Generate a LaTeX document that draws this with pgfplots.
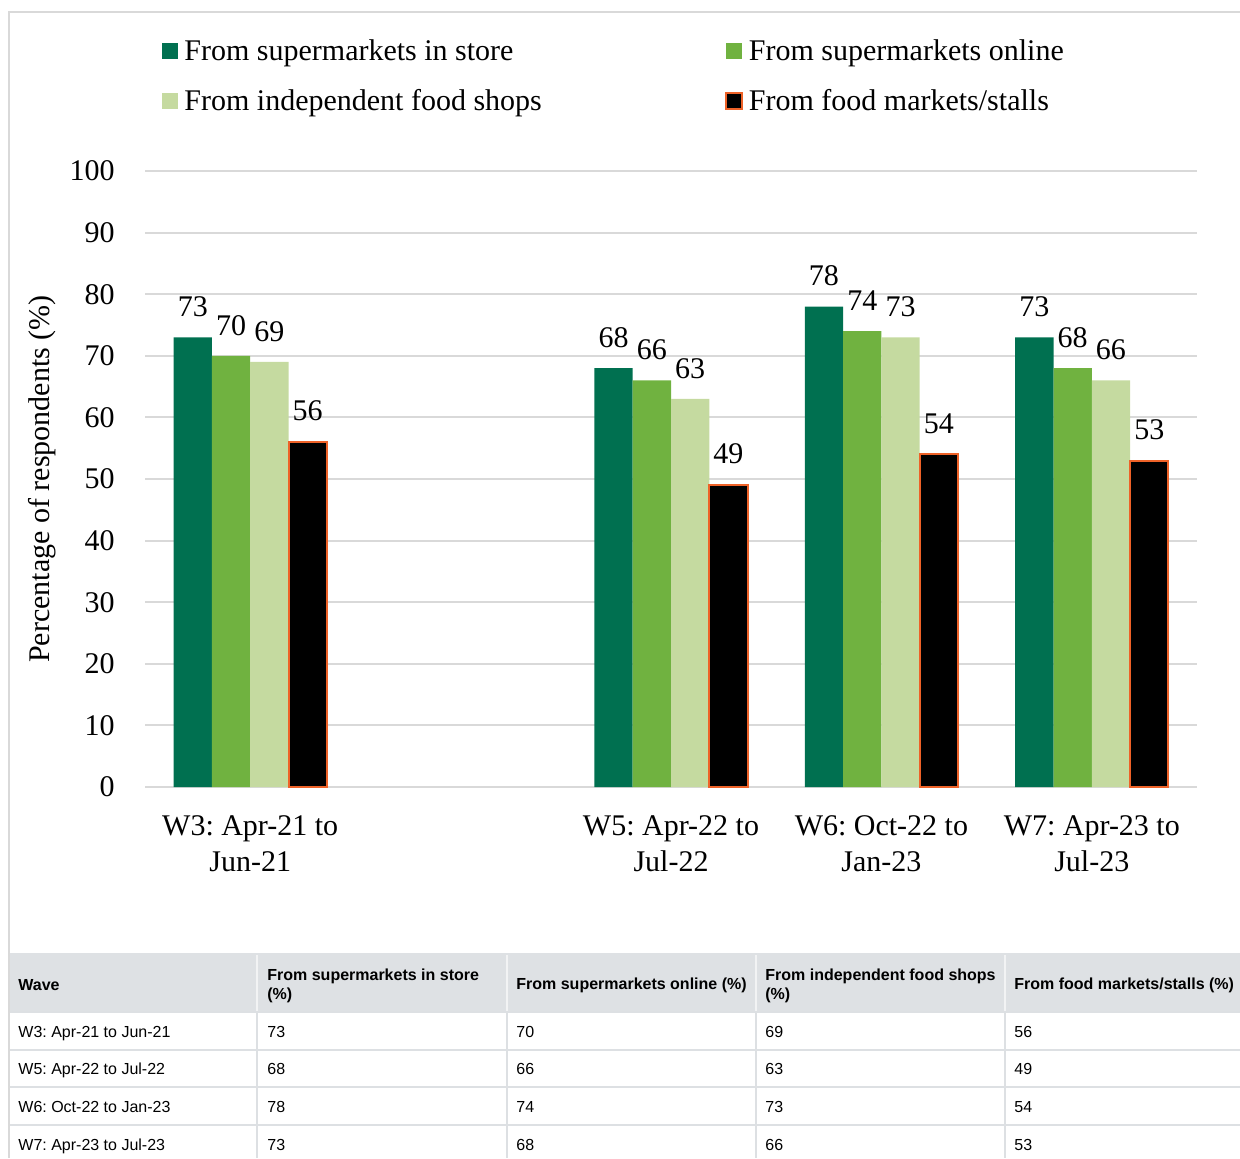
\documentclass[border=0pt]{standalone}
\usepackage{pgfplots}
\pgfplotsset{compat=1.18}
\usepackage{pgfplotstable}
\usepackage{fontspec}
\setmainfont{Liberation Serif}
\newfontfamily\arial{Liberation Sans}
\frenchspacing

\definecolor{sisgreen}{RGB}{0,112,80}
\definecolor{songreen}{RGB}{112,178,64}
\definecolor{indgreen}{RGB}{197,218,160}
\definecolor{mktedge}{RGB}{238,98,40}
\definecolor{gridgray}{RGB}{217,217,217}
\definecolor{hdrgray}{RGB}{222,225,228}
\definecolor{linegray}{RGB}{221,224,227}

\pgfplotsset{/pgf/number format/assume math mode=true}

% x = 0 is W3, 1 is the empty W4 slot, 2..4 are W5..W7
\pgfplotstableread{
x  store online indep market
0  73  70  69  56
2  68  66  63  49
3  78  74  73  54
4  73  68  66  53
}\shopdata

\begin{document}
\begin{tikzpicture}[x=0.5pt,y=-0.5pt]
\useasboundingbox (0,0) rectangle (1240,1158);
% outer frame
\draw[gridgray, line width=1pt] (1250,12) -- (9,12) -- (9,1158);
\coordinate (origin) at (145,787);

\begin{axis}[
    at={(origin)}, anchor=south west,
    scale only axis, width=526pt, height=308pt,
    xmin=-0.5, xmax=4.5, ymin=0, ymax=100,
    ybar=0pt, bar width=19.15pt,
    xtick={0,2,3,4},
    xticklabels={{W3: Apr-21 to\\Jun-21},{W5: Apr-22 to\\Jul-22},{W6: Oct-22 to\\Jan-23},{W7: Apr-23 to\\Jul-23}},
    ytick={0,10,...,100},
    ymajorgrids, grid style={gridgray, line width=1pt},
    axis line style={draw=none},
    major tick length=0pt,
    tick label style={font=\fontsize{15}{18}\selectfont},
    xticklabel style={align=center, inner sep=0pt, yshift=-14pt},
    yticklabel style={inner sep=0pt, xshift=-15pt},
    ylabel={Percentage of respondents (\%)},
    ylabel style={font=\fontsize{15}{18}\selectfont, at={(axis description cs:-0.098,0.5)}, anchor=center},
    nodes near coords,
    every node near coord/.append style={font=\fontsize{15}{18}\selectfont, text=black, draw=none, inner sep=0pt, yshift=10pt},
    legend columns=2, legend cell align=left,
    legend image code/.code={\path[#1] (0pt,-4pt) rectangle (8pt,4pt);},
    legend style={at={(0.0162,1.2208)}, anchor=north west, draw=none, fill=none, inner sep=0pt,
        font=\fontsize{15}{18}\selectfont, row sep=9pt,
        /tikz/every odd column/.append style={column sep=1pt},
        /tikz/every even column/.append style={column sep=89.5pt}},
]
\addplot[fill=sisgreen, draw=none] table[x=x, y=store]{\shopdata};
\addplot[fill=songreen, draw=none] table[x=x, y=online]{\shopdata};
\addplot[fill=indgreen, draw=none] table[x=x, y=indep]{\shopdata};
\addplot[fill=black, draw=mktedge, line width=1pt] table[x=x, y=market]{\shopdata};
\legend{From supermarkets in store, From supermarkets online, From independent food shops, From food markets/stalls}
\end{axis}

% data table under the chart
\fill[hdrgray] (9,953) rectangle (1250,1012);
\foreach \yy in {1012,1050,1087,1125}
  \draw[linegray, line width=1.2pt] (9,\yy) -- (1250,\yy);
\foreach \xx in {257,507,756,1005} {
  \draw[white!60!hdrgray, line width=1pt] (\xx,955) -- (\xx,1011);
  \draw[linegray, line width=1.2pt] (\xx,1012) -- (\xx,1158);
}
\draw[gridgray, line width=1pt] (9,12) -- (9,1158);

\tikzset{hdr/.style={anchor=west, inner sep=0pt, align=left, font=\arial\bfseries\fontsize{8}{9.5}\selectfont},
         cell/.style={anchor=base west, inner sep=0pt, font=\arial\fontsize{8}{9.5}\selectfont}}
\node[hdr] at (18,985) {Wave};
\node[hdr] at (267,986) {From supermarkets in store\\(\%)};
\node[hdr] at (516,985) {From supermarkets online (\%)};
\node[hdr] at (765,986) {From independent food shops\\(\%)};
\node[hdr] at (1014,985) {From food markets/stalls (\%)};

\foreach \r/\name in {0/{W3: Apr-21 to Jun-21},1/{W5: Apr-22 to Jul-22},2/{W6: Oct-22 to Jan-23},3/{W7: Apr-23 to Jul-23}} {
  \pgfmathsetmacro\yy{1031+37.67*\r+6.2}
  \node[cell] at (18,\yy) {\name};
  \foreach \c/\cx in {store/267,online/516,indep/765,market/1014} {
    \pgfplotstablegetelem{\r}{\c}\of\shopdata
    \node[cell] at (\cx,\yy) {\pgfplotsretval};
  }
}
\end{tikzpicture}
\end{document}
